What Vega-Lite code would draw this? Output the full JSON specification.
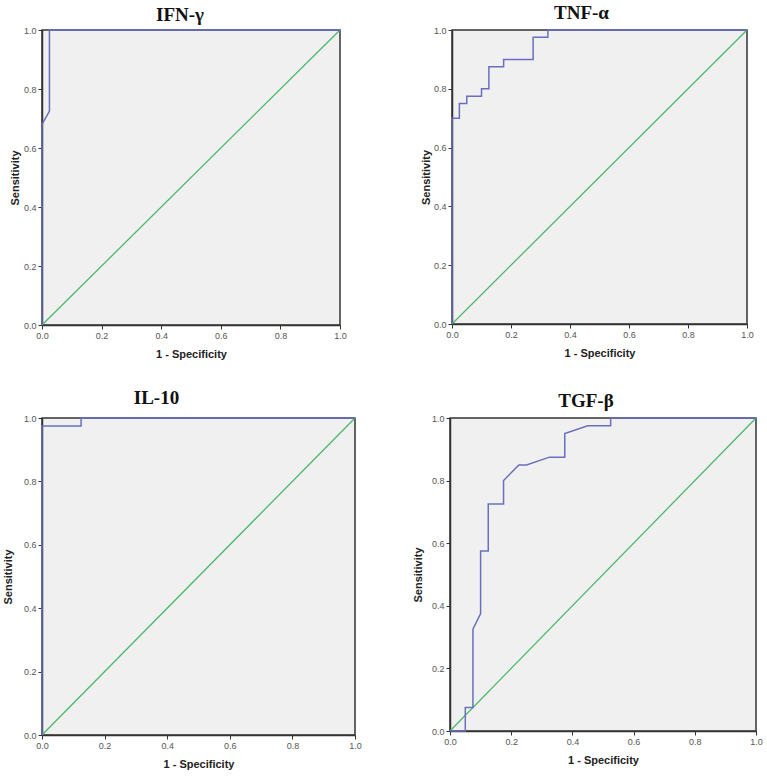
{
  "$schema": "https://vega.github.io/schema/vega-lite/v6.json",
  "padding": {"left": 1, "top": 3, "right": 5, "bottom": 5},
  "background": "white",
  "config": {
    "view": {"fill": "#f0f0f0", "stroke": "#333333", "strokeWidth": 1.5},
    "axis": {
      "grid": false,
      "labelFont": "Liberation Sans",
      "labelFontSize": 9,
      "labelColor": "#555555",
      "labelFlush": false,
      "labelPadding": 2,
      "tickSize": 4,
      "tickColor": "#333333",
      "domainColor": "#333333",
      "domainWidth": 1.5,
      "titleFont": "Liberation Sans",
      "titleFontSize": 11,
      "titleFontWeight": "bold",
      "titleColor": "#222222"
    },
    "title": {"font": "Liberation Serif", "fontSize": 19, "fontWeight": "bold", "color": "#111111", "anchor": "middle"}
  },
  "concat": [
    {
      "hconcat": [
        {
          "width": 298, "height": 295,
          "title": {"text": "IFN-γ", "dx": -11, "offset": 1},
          "layer": [
            {
              "data": {"values": [{"fpr": 0, "tpr": 0, "ord": 1}, {"fpr": 1, "tpr": 1, "ord": 2}]},
              "mark": {"type": "line", "color": "#4cb86a", "strokeWidth": 1.3},
              "encoding": {
                "x": {"field": "fpr", "type": "quantitative", "scale": {"domain": [0, 1]}, "axis": {"title": "1 - Specificity", "values": [0, 0.2, 0.4, 0.6, 0.8, 1], "format": ".1f", "titlePadding": 8}},
                "y": {"field": "tpr", "type": "quantitative", "scale": {"domain": [0, 1]}, "axis": {"title": "Sensitivity", "values": [0, 0.2, 0.4, 0.6, 0.8, 1], "format": ".1f", "titlePadding": 3}},
                "order": {"field": "ord"}
              }
            },
            {
              "data": {"values": [
                {"fpr": 0, "tpr": 0, "ord": 1},
                {"fpr": 0, "tpr": 0.68, "ord": 2},
                {"fpr": 0.025, "tpr": 0.725, "ord": 3},
                {"fpr": 0.025, "tpr": 1, "ord": 4},
                {"fpr": 1, "tpr": 1, "ord": 5}
              ]},
              "mark": {"type": "line", "color": "#6a6fbd", "strokeWidth": 1.5},
              "encoding": {
                "x": {"field": "fpr", "type": "quantitative"},
                "y": {"field": "tpr", "type": "quantitative"},
                "order": {"field": "ord"}
              }
            }
          ]
        },
        {
          "width": 295, "height": 294,
          "title": {"text": "TNF-α", "dx": -18, "offset": 3},
          "layer": [
            {
              "data": {"values": [{"fpr": 0, "tpr": 0, "ord": 1}, {"fpr": 1, "tpr": 1, "ord": 2}]},
              "mark": {"type": "line", "color": "#4cb86a", "strokeWidth": 1.3},
              "encoding": {
                "x": {"field": "fpr", "type": "quantitative", "scale": {"domain": [0, 1]}, "axis": {"title": "1 - Specificity", "values": [0, 0.2, 0.4, 0.6, 0.8, 1], "format": ".1f", "titlePadding": 8}},
                "y": {"field": "tpr", "type": "quantitative", "scale": {"domain": [0, 1]}, "axis": {"title": "Sensitivity", "values": [0, 0.2, 0.4, 0.6, 0.8, 1], "format": ".1f", "titlePadding": 2}},
                "order": {"field": "ord"}
              }
            },
            {
              "data": {"values": [
                {"fpr": 0, "tpr": 0, "ord": 1},
                {"fpr": 0, "tpr": 0.7, "ord": 2},
                {"fpr": 0.025, "tpr": 0.7, "ord": 3},
                {"fpr": 0.025, "tpr": 0.75, "ord": 4},
                {"fpr": 0.05, "tpr": 0.75, "ord": 5},
                {"fpr": 0.05, "tpr": 0.775, "ord": 6},
                {"fpr": 0.1, "tpr": 0.775, "ord": 7},
                {"fpr": 0.1, "tpr": 0.8, "ord": 8},
                {"fpr": 0.125, "tpr": 0.8, "ord": 9},
                {"fpr": 0.125, "tpr": 0.875, "ord": 10},
                {"fpr": 0.175, "tpr": 0.875, "ord": 11},
                {"fpr": 0.175, "tpr": 0.9, "ord": 12},
                {"fpr": 0.275, "tpr": 0.9, "ord": 13},
                {"fpr": 0.275, "tpr": 0.975, "ord": 14},
                {"fpr": 0.325, "tpr": 0.975, "ord": 15},
                {"fpr": 0.325, "tpr": 1, "ord": 16},
                {"fpr": 1, "tpr": 1, "ord": 17}
              ]},
              "mark": {"type": "line", "color": "#6a6fbd", "strokeWidth": 1.5},
              "encoding": {
                "x": {"field": "fpr", "type": "quantitative"},
                "y": {"field": "tpr", "type": "quantitative"},
                "order": {"field": "ord"}
              }
            }
          ]
        }
      ],
      "spacing": 71
    },
    {
      "hconcat": [
        {
          "width": 313, "height": 317,
          "title": {"text": "IL-10", "dx": -42, "offset": 6},
          "layer": [
            {
              "data": {"values": [{"fpr": 0, "tpr": 0, "ord": 1}, {"fpr": 1, "tpr": 1, "ord": 2}]},
              "mark": {"type": "line", "color": "#4cb86a", "strokeWidth": 1.3},
              "encoding": {
                "x": {"field": "fpr", "type": "quantitative", "scale": {"domain": [0, 1]}, "axis": {"title": "1 - Specificity", "values": [0, 0.2, 0.4, 0.6, 0.8, 1], "format": ".1f", "titlePadding": 8}},
                "y": {"field": "tpr", "type": "quantitative", "scale": {"domain": [0, 1]}, "axis": {"title": "Sensitivity", "values": [0, 0.2, 0.4, 0.6, 0.8, 1], "format": ".1f", "titlePadding": 10}},
                "order": {"field": "ord"}
              }
            },
            {
              "data": {"values": [
                {"fpr": 0, "tpr": 0, "ord": 1},
                {"fpr": 0, "tpr": 0.975, "ord": 2},
                {"fpr": 0.125, "tpr": 0.975, "ord": 3},
                {"fpr": 0.125, "tpr": 1, "ord": 4},
                {"fpr": 1, "tpr": 1, "ord": 5}
              ]},
              "mark": {"type": "line", "color": "#6a6fbd", "strokeWidth": 1.5},
              "encoding": {
                "x": {"field": "fpr", "type": "quantitative"},
                "y": {"field": "tpr", "type": "quantitative"},
                "order": {"field": "ord"}
              }
            }
          ]
        },
        {
          "width": 306, "height": 313,
          "title": {"text": "TGF-β", "dx": -17, "offset": 3},
          "layer": [
            {
              "data": {"values": [{"fpr": 0, "tpr": 0, "ord": 1}, {"fpr": 1, "tpr": 1, "ord": 2}]},
              "mark": {"type": "line", "color": "#4cb86a", "strokeWidth": 1.3},
              "encoding": {
                "x": {"field": "fpr", "type": "quantitative", "scale": {"domain": [0, 1]}, "axis": {"title": "1 - Specificity", "values": [0, 0.2, 0.4, 0.6, 0.8, 1], "format": ".1f", "titlePadding": 8}},
                "y": {"field": "tpr", "type": "quantitative", "scale": {"domain": [0, 1]}, "axis": {"title": "Sensitivity", "values": [0, 0.2, 0.4, 0.6, 0.8, 1], "format": ".1f", "titlePadding": 8}},
                "order": {"field": "ord"}
              }
            },
            {
              "data": {"values": [
                {"fpr": 0, "tpr": 0, "ord": 1},
                {"fpr": 0.05, "tpr": 0, "ord": 2},
                {"fpr": 0.05, "tpr": 0.075, "ord": 3},
                {"fpr": 0.075, "tpr": 0.075, "ord": 4},
                {"fpr": 0.075, "tpr": 0.325, "ord": 5},
                {"fpr": 0.1, "tpr": 0.375, "ord": 6},
                {"fpr": 0.1, "tpr": 0.575, "ord": 7},
                {"fpr": 0.125, "tpr": 0.575, "ord": 8},
                {"fpr": 0.125, "tpr": 0.725, "ord": 9},
                {"fpr": 0.175, "tpr": 0.725, "ord": 10},
                {"fpr": 0.175, "tpr": 0.8, "ord": 11},
                {"fpr": 0.225, "tpr": 0.85, "ord": 12},
                {"fpr": 0.25, "tpr": 0.85, "ord": 13},
                {"fpr": 0.325, "tpr": 0.875, "ord": 14},
                {"fpr": 0.375, "tpr": 0.875, "ord": 15},
                {"fpr": 0.375, "tpr": 0.95, "ord": 16},
                {"fpr": 0.45, "tpr": 0.975, "ord": 17},
                {"fpr": 0.525, "tpr": 0.975, "ord": 18},
                {"fpr": 0.525, "tpr": 1, "ord": 19},
                {"fpr": 1, "tpr": 1, "ord": 20}
              ]},
              "mark": {"type": "line", "color": "#6a6fbd", "strokeWidth": 1.5},
              "encoding": {
                "x": {"field": "fpr", "type": "quantitative"},
                "y": {"field": "tpr", "type": "quantitative"},
                "order": {"field": "ord"}
              }
            }
          ]
        }
      ],
      "spacing": 48
    }
  ],
  "columns": 1,
  "align": "none",
  "spacing": 28
}
